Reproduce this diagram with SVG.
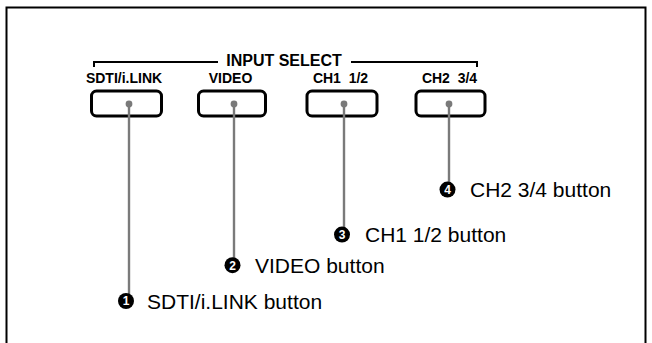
<svg xmlns="http://www.w3.org/2000/svg" width="652" height="343" viewBox="0 0 652 343">
<style>
.frame{fill:none;stroke:#000;stroke-width:2}
.btn{fill:#fff;stroke:#000;stroke-width:3}
.lbl{font-family:"Liberation Sans",Arial,sans-serif;font-weight:bold;font-size:14px;fill:#000;text-anchor:middle}
.title{font-family:"Liberation Sans",Arial,sans-serif;font-weight:bold;font-size:16px;fill:#000;text-anchor:middle}
.lead{stroke:#7a7a7a;stroke-width:2.4;fill:none}
.dot{fill:#7a7a7a}
.num{fill:#000}
.numt{font-family:"Liberation Sans",Arial,sans-serif;font-weight:bold;font-size:12px;fill:#fff;text-anchor:middle}
.cap{font-family:"Liberation Sans",Arial,sans-serif;font-size:21px;fill:#000}
.brk{fill:none;stroke:#000;stroke-width:2}
</style>
<rect width="652" height="343" fill="#fff"/>
<path class="frame" d="M6.5,345 V7.5 H645.5 V345"/>
<g id="input-select">
<path class="brk" d="M94,67 V62 H218 M351,62 H477 V67"/>
<text class="title" x="284" y="66">INPUT SELECT</text>
</g>
<g id="btn-sdti">
<text class="lbl" x="124" y="83">SDTI/i.LINK</text>
<rect class="btn" x="91.5" y="91" width="70" height="25" rx="5"/>
</g>
<g id="btn-video">
<text class="lbl" x="230.5" y="83">VIDEO</text>
<rect class="btn" x="198.5" y="91" width="67" height="25" rx="5"/>
</g>
<g id="btn-ch1">
<text class="lbl" x="340.5" y="83" xml:space="preserve">CH1  1/2</text>
<rect class="btn" x="307" y="91" width="70" height="25" rx="5"/>
</g>
<g id="btn-ch2">
<text class="lbl" x="449.5" y="83" xml:space="preserve">CH2  3/4</text>
<rect class="btn" x="416" y="91" width="69" height="25" rx="5"/>
</g>
<g id="connectors">
<line class="lead" x1="129" y1="104" x2="129" y2="296"/>
<line class="lead" x1="234" y1="104" x2="234" y2="260"/>
<line class="lead" x1="344" y1="104" x2="344" y2="229"/>
<line class="lead" x1="449" y1="104" x2="449" y2="184"/>
<circle class="dot" cx="129" cy="104" r="3.4"/>
<circle class="dot" cx="234" cy="104" r="3.4"/>
<circle class="dot" cx="344" cy="104" r="3.4"/>
<circle class="dot" cx="449" cy="104" r="3.4"/>
</g>
<g id="callout-1">
<circle class="num" cx="126" cy="301" r="8"/>
<text class="numt" x="126" y="305.3">1</text>
<text class="cap" x="147" y="308.5">SDTI/i.LINK button</text>
</g>
<g id="callout-2">
<circle class="num" cx="232.5" cy="265.2" r="8"/>
<text class="numt" x="232.5" y="269.5">2</text>
<text class="cap" x="255" y="272.5">VIDEO button</text>
</g>
<g id="callout-3">
<circle class="num" cx="342" cy="234.6" r="8"/>
<text class="numt" x="342" y="238.9">3</text>
<text class="cap" x="365" y="242">CH1 1/2 button</text>
</g>
<g id="callout-4">
<circle class="num" cx="447.5" cy="189.6" r="8"/>
<text class="numt" x="447.5" y="193.9">4</text>
<text class="cap" x="470" y="196.7">CH2 3/4 button</text>
</g>
</svg>
